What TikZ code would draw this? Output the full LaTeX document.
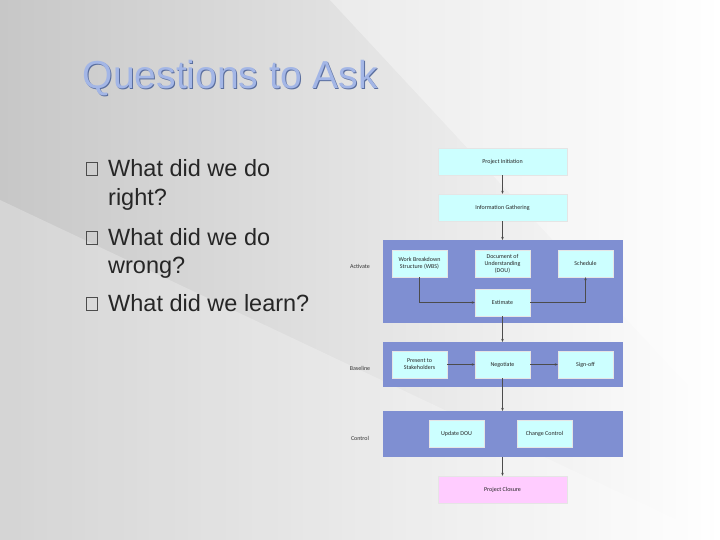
\documentclass[tikz,border=0pt]{standalone}
\usepackage{fontspec}
\setmainfont{Liberation Sans}
\newfontfamily\carlitofont{Carlito}
\usetikzlibrary{arrows.meta}
\definecolor{band}{HTML}{7F8FD2}
\definecolor{cyanbox}{HTML}{CCFFFF}
\definecolor{pinkbox}{HTML}{FFCCFF}
\definecolor{titleblue}{HTML}{A3B6E6}
\definecolor{titleline}{HTML}{5A6E9E}
\tikzset{
 box/.style={draw=white!80!gray, fill=cyanbox, minimum width=55pt, minimum height=27pt, font=\carlitofont\fontsize{6}{7}\selectfont, align=center, inner sep=1pt, text=black!85},
 bandbox/.style={fill=band, draw=none},
 lbl/.style={font=\carlitofont\fontsize{6}{7}\selectfont, text=black!80},
 arr/.style={-{Stealth[length=3pt,width=2.5pt]}, draw=black!70, line width=0.5pt},
 bul/.style={draw=black!70, line width=0.5pt, minimum width=11pt, minimum height=13pt, inner sep=0pt},
 btxt/.style={font=\fontsize{23.5}{26}\selectfont, anchor=west, text=black!85, inner sep=0pt}
}
\begin{document}
\begin{tikzpicture}[x=1pt,y=-1pt]
\useasboundingbox (0,0) rectangle (720,540);
\shade[left color=black!22, right color=white] (0,0) rectangle (720,540);
\fill[white, opacity=0.25] (0,540) -- (0,200) -- (720,540) -- cycle;
\fill[white, opacity=0.35] (330,0) -- (720,0) -- (720,420) -- cycle;
\node[anchor=west, font=\fontsize{39}{42}\selectfont, text=titleline, inner sep=0pt] (titleb) at (83.6,78.6) {Questions to Ask};
\node[anchor=west, font=\fontsize{39}{42}\selectfont, text=titleblue, inner sep=0pt] (title) at (82.6,77.6) {Questions to Ask};
\node[bul] (b1) at (92,169) {};
\node[btxt] (t1) at (108,168) {What did we do};
\node[btxt] (t1b) at (108,199) {right?};
\node[bul] (b2) at (92,238) {};
\node[btxt] (t2) at (108,237) {What did we do};
\node[btxt] (t2b) at (108,268) {wrong?};
\node[bul] (b3) at (92,304) {};
\node[btxt] (t3) at (108,303) {What did we learn?};
\fill[bandbox] (383,240) rectangle (623,323);
\fill[bandbox] (383,342) rectangle (623,387);
\fill[bandbox] (383,411) rectangle (623,457);
\coordinate (a1top) at (502.5,240);
\coordinate (b1top) at (502.5,342);
\coordinate (c1top) at (502.5,411);
\coordinate (c1bot) at (502.5,457);
\node[lbl] (lact) at (360,266) {Activate};
\node[lbl] (lbas) at (360,368) {Baseline};
\node[lbl] (lcon) at (360,438) {Control};
\node[box, minimum width=129pt] (pi) at (502.5,161.5) {Project Initiation};
\node[box, minimum width=129pt] (ig) at (502.5,207.5) {Information Gathering};
\node[box] (wbs) at (419.5,263.5) {Work Breakdown\\Structure (WBS)};
\node[box] (dou) at (502.5,263.5) {Document of\\Understanding\\(DOU)};
\node[box] (sch) at (585.5,263.5) {Schedule};
\node[box] (est) at (502.5,302.5) {Estimate};
\node[box] (pre) at (419.5,364.5) {Present to\\Stakeholders};
\node[box] (neg) at (502.5,364.5) {Negotiate};
\node[box] (sig) at (585.5,364.5) {Sign-off};
\node[box] (upd) at (456.5,433.5) {Update DOU};
\node[box] (chg) at (544.5,433.5) {Change Control};
\node[box, fill=pinkbox, minimum width=129pt] (clo) at (502.5,489.5) {Project Closure};
\draw[arr] (pi) -- (ig);
\draw[arr] (ig) -- (a1top);
\draw[arr] (wbs.south) |- (est.west);
\draw[arr] (est.east) -| (sch.south);
\draw[arr] (est) -- (b1top);
\draw[arr] (pre) -- (neg);
\draw[arr] (neg) -- (sig);
\draw[arr] (neg) -- (c1top);
\draw[arr] (c1bot) -- (clo);
\end{tikzpicture}
\end{document}
